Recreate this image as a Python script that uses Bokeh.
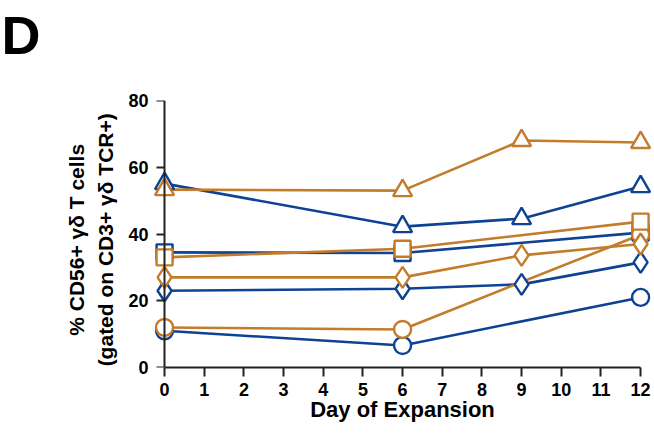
from bokeh.plotting import figure
from bokeh.embed import file_html
from bokeh.resources import INLINE
from bokeh.models import Range1d, FixedTicker, LinearAxis, Title

days_full = [0, 6, 9, 12]
days_no9 = [0, 6, 12]

blue_triangle = [55.1, 42.2, 44.6, 54.2]
orange_triangle = [53.3, 53.0, 68.0, 67.4]
blue_square = [34.5, 34.3, 40.4]
orange_square = [33.0, 35.6, 43.7]
orange_diamond = [27.0, 27.0, 33.6, 37.0]
blue_diamond = [23.0, 23.6, 24.9, 31.5]
orange_circle = [12.0, 11.4, 39.8]
blue_circle = [11.0, 6.6, 21.0]

x_ticks = list(range(0, 13))
y_ticks = [0, 20, 40, 60, 80]

BLUE = "#0E4294"
ORANGE = "#C27C2C"
AXC = "#222222"

p = figure(width=652, height=432, output_backend="svg", toolbar_location=None,
           x_range=Range1d(-0.304, 12.3), y_range=Range1d(0, 80),
           min_border_left=152, min_border_right=0, min_border_top=100, min_border_bottom=65,
           title=None)
p.outline_line_color = None
p.grid.visible = False

# inner spacer, then the panel letter above it
spacer = Title(text="\u00a0", text_font_size="12px", standoff=14)
p.add_layout(spacer, "above")
t = Title(text="D", align="left", vertical_align="top", text_font="Liberation Sans",
          text_font_style="bold", text_font_size="54px", text_color="black",
          offset=-151, standoff=8)
p.add_layout(t, "above")

series = [
    (days_no9, blue_circle, BLUE, "circle", 17),
    (days_full, blue_diamond, BLUE, "diamond", 21),
    (days_no9, blue_square, BLUE, "square", 16),
    (days_full, blue_triangle, BLUE, "triangle", 19),
    (days_no9, orange_circle, ORANGE, "circle", 17),
    (days_full, orange_diamond, ORANGE, "diamond", 21),
    (days_no9, orange_square, ORANGE, "square", 16),
    (days_full, orange_triangle, ORANGE, "triangle", 19),
]
for xs, ys, col, mk, sz in series:
    p.line(xs, ys, line_color=col, line_width=2.6)
for xs, ys, col, mk, sz in series:
    p.scatter(xs, ys, marker=mk, size=sz, line_color=col, line_width=2.4, fill_color="white")

def style(ax):
    ax.axis_line_width = 2
    ax.axis_line_color = AXC
    ax.major_tick_line_width = 2
    ax.major_tick_line_color = AXC
    ax.major_tick_in = 0
    ax.minor_tick_line_color = None
    ax.major_label_text_font = "Liberation Sans"
    ax.major_label_text_font_style = "bold"
    ax.major_label_text_font_size = "18px"
    ax.major_label_text_color = "black"
    ax.axis_label_text_font = "Liberation Sans"
    ax.axis_label_text_font_style = "bold"
    ax.axis_label_text_color = "black"

xa = p.xaxis[0]
style(xa)
xa.ticker = FixedTicker(ticks=x_ticks)
xa.bounds = (0, 12)
xa.major_tick_out = 9
xa.major_label_standoff = 6
xa.axis_label = "Day of Expansion"
xa.axis_label_text_font_size = "22px"
xa.axis_label_standoff = -2

# left axis at the frame edge: tick labels and title only
ya = p.yaxis[0]
style(ya)
ya.ticker = FixedTicker(ticks=y_ticks)
ya.axis_line_color = None
ya.major_tick_line_color = None
ya.major_tick_out = 0
ya.major_label_standoff = 4
ya.axis_label = "% CD56+ γδ T cells\u00a0\u00a0\n(gated on CD3+ γδ TCR+)\u00a0\u00a0"
ya.axis_label_text_font_size = "21px"
ya.axis_label_text_line_height = 1.3
ya.axis_label_standoff = 8

# axis line and ticks drawn at day 0
ya2 = LinearAxis(ticker=FixedTicker(ticks=y_ticks), bounds=(0, 80), fixed_location=0)
style(ya2)
ya2.major_tick_out = 8
ya2.major_label_text_alpha = 0
ya2.major_label_text_font_size = "1px"
p.add_layout(ya2, "left")

open("out.html", "w").write(file_html(p, INLINE))
